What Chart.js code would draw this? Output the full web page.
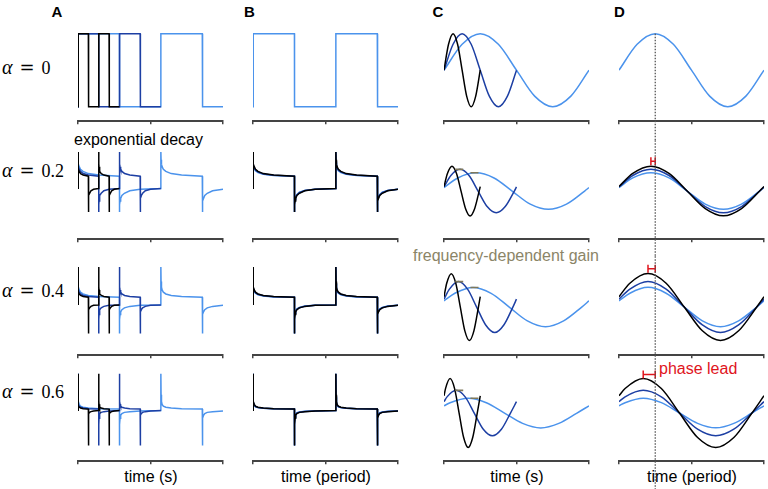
<!DOCTYPE html>
<html>
<head>
<meta charset="utf-8">
<script src="https://cdn.jsdelivr.net/npm/chart.js@4.4.0/dist/chart.umd.min.js"></script>
<style>
body { margin: 0; width: 768px; height: 489px; position: relative; overflow: hidden; background: #fff;
       font-family: "Liberation Sans", Arial, sans-serif; }
canvas { position: absolute; }
.lbl { position: absolute; line-height: 1; white-space: nowrap; color: #000; }
.letter { font-weight: bold; font-size: 15px; }
.xtitle { font-size: 16px; width: 200px; text-align: center; }
.note { font-size: 16px; }
.alpha { position: absolute; left: 2px; font-family: "Liberation Serif", serif; font-size: 18px; line-height: 18px; white-space: nowrap; }
.alpha i { font-family: "Liberation Serif", serif; font-style: italic; font-size: 20px; }
.alpha .eq { font-family: "DejaVu Serif", serif; margin: 0 7px 0 7px; }
</style>
</head>
<body>
<div class="lbl letter" style="left:51.5px; top:4px">A</div>
<div class="lbl letter" style="left:244px; top:4px">B</div>
<div class="lbl letter" style="left:432.5px; top:4px">C</div>
<div class="lbl letter" style="left:614px; top:4px">D</div>

<div class="alpha" style="top:58.2px"><i>α</i><span class="eq">=</span>0</div>
<div class="alpha" style="top:161px"><i>α</i><span class="eq">=</span>0.2</div>
<div class="alpha" style="top:281px"><i>α</i><span class="eq">=</span>0.4</div>
<div class="alpha" style="top:382.2px"><i>α</i><span class="eq">=</span>0.6</div>

<div class="lbl note" style="left:74px; top:131.5px">exponential decay</div>
<div class="lbl note" style="left:413px; top:248.2px; color:#8b8567">frequency-dependent gain</div>
<div class="lbl note" style="left:659px; top:361px; color:#e0141c">phase lead</div>

<div class="lbl xtitle" style="left:51px; top:468.5px">time (s)</div>
<div class="lbl xtitle" style="left:226px; top:468.5px">time (period)</div>
<div class="lbl xtitle" style="left:417px; top:468.5px">time (s)</div>
<div class="lbl xtitle" style="left:592px; top:468.5px">time (period)</div>

<script>
// valeurs (unité : amplitude du créneau de la ligne alpha = 0)
var rowAlpha = ['0', '0.2', '0.4', '0.6'];
var seriesColors = ['#000000', '#1d3fa3', '#4b93ec'];

// A et B : réponse après chaque front, u = fraction de demi-période
var edgeU = [0, 0.005, 0.015, 0.03, 0.06, 0.12, 0.25, 0.5, 1];
var riseResp = [
    [1, 1, 1, 1, 1, 1, 1, 1, 1],
    [0.99, 0.78, 0.66, 0.59, 0.52, 0.46, 0.40, 0.36, 0.33],
    [1.02, 0.62, 0.47, 0.39, 0.33, 0.28, 0.24, 0.21, 0.19],
    [1.00, 0.42, 0.24, 0.16, 0.11, 0.08, 0.06, 0.04, 0.03]
];
var fallResp = [
    [-1, -1, -1, -1, -1, -1, -1, -1, -1],
    [-0.65, -0.45, -0.35, -0.28, -0.20, -0.14, -0.07, -0.03, -0.01],
    [-0.80, -0.42, -0.28, -0.21, -0.15, -0.10, -0.06, -0.03, -0.02],
    [-0.97, -0.40, -0.22, -0.14, -0.09, -0.06, -0.04, -0.02, -0.01]
];
// B : les courbes bleues retombent un peu plus vite que la noire
var riseNavyB = [
    [1, 1, 1, 1, 1, 1, 1, 1, 1],
    [0.99, 0.74, 0.63, 0.565, 0.50, 0.445, 0.39, 0.355, 0.33],
    [1.02, 0.58, 0.445, 0.37, 0.315, 0.27, 0.232, 0.205, 0.19],
    [1.00, 0.38, 0.22, 0.145, 0.10, 0.075, 0.055, 0.04, 0.03]
];
var fallNavyB = [
    [-1, -1, -1, -1, -1, -1, -1, -1, -1],
    [-0.65, -0.42, -0.32, -0.255, -0.185, -0.125, -0.065, -0.03, -0.01],
    [-0.80, -0.385, -0.26, -0.195, -0.14, -0.095, -0.055, -0.03, -0.02],
    [-0.97, -0.36, -0.20, -0.125, -0.08, -0.055, -0.035, -0.02, -0.01]
];
var riseLightB = [
    [1, 1, 1, 1, 1, 1, 1, 1, 1],
    [0.99, 0.70, 0.60, 0.54, 0.48, 0.43, 0.38, 0.35, 0.33],
    [1.02, 0.55, 0.42, 0.35, 0.30, 0.26, 0.225, 0.20, 0.19],
    [1.00, 0.35, 0.20, 0.13, 0.09, 0.07, 0.05, 0.04, 0.03]
];
var fallLightB = [
    [-1, -1, -1, -1, -1, -1, -1, -1, -1],
    [-0.65, -0.38, -0.29, -0.23, -0.17, -0.11, -0.06, -0.03, -0.01],
    [-0.80, -0.35, -0.24, -0.18, -0.13, -0.09, -0.05, -0.03, -0.02],
    [-0.97, -0.33, -0.18, -0.11, -0.07, -0.05, -0.03, -0.02, -0.01]
];
var startLevel = [-1, 0, 0, 0];
var halfPeriodA = [0.25, 0.5, 1];   // s (noir, bleu foncé, bleu clair)
var halfPeriodB = [1, 1, 1];        // en demi-périodes
var edgesPerTrace = 4;

// C et D : sinusoïdes sur une période (x en période)
var sineX = [
    [0, 0.125, 0.25, 0.375, 0.5, 0.625, 0.75, 0.875, 1],
    [0, 0.095, 0.22, 0.345, 0.47, 0.595, 0.72, 0.845, 0.97, 1],
    [0, 0.075, 0.2, 0.325, 0.45, 0.575, 0.7, 0.825, 0.95, 1],
    [0, 0.042, 0.167, 0.292, 0.417, 0.542, 0.667, 0.792, 0.917, 1]
];
var sineBlack = [
    [0, 0.71, 1, 0.71, 0, -0.71, -1, -0.71, 0],
    [0.13, 0.51, 0.72, 0.51, 0, -0.51, -0.72, -0.51, 0, 0.13],
    [0.30, 0.69, 0.97, 0.69, 0, -0.69, -0.97, -0.69, 0, 0.30],
    [0.50, 0.71, 1.00, 0.71, 0, -0.71, -1.00, -0.71, 0, 0.50]
];
var sineNavy = [
    [0, 0.71, 1, 0.71, 0, -0.71, -1, -0.71, 0],
    [0.12, 0.45, 0.63, 0.45, 0, -0.45, -0.63, -0.45, 0, 0.12],
    [0.23, 0.52, 0.74, 0.52, 0, -0.52, -0.74, -0.52, 0, 0.23],
    [0.33, 0.47, 0.66, 0.47, 0, -0.47, -0.66, -0.47, 0, 0.33]
];
var sineLight = [
    [0, 0.71, 1, 0.71, 0, -0.71, -1, -0.71, 0],
    [0.10, 0.38, 0.53, 0.38, 0, -0.38, -0.53, -0.38, 0, 0.10],
    [0.18, 0.40, 0.57, 0.40, 0, -0.40, -0.57, -0.40, 0, 0.18],
    [0.21, 0.30, 0.43, 0.30, 0, -0.30, -0.43, -0.30, 0, 0.21]
];
var periodC = [0.25, 0.5, 1];         // s
var gainX = [0.105, 0.21];            // repères de gain (panneau C)
var leadStart = [null, 0.22, 0.2, 0.167];
var leadLevel = [null, 0.86, 1.11, 1.12];
var peakTime = 0.25;

// mise en page
var colLeft = [78, 253, 444, 619];
var colWidth = 145;
var rowTop = [22, 140, 256, 362];
var rowHeight = [118, 116, 106, 127];
var yMin = -1.40, yMax = 1.32;
var areaH = 99.3;
var tickLen = 3;
var sides = 8;

function squareTrace(row, half, rise, fall) {
    var pts = [{x: 0, y: startLevel[row]}];
    for (var k = 0; k < edgesPerTrace; k++) {
        var resp = (k % 2 === 0) ? rise[row] : fall[row];
        for (var j = 0; j < edgeU.length; j++) {
            pts.push({x: (k + edgeU[j]) * half, y: resp[j]});
        }
    }
    return pts;
}

function sineTrace(row, values, period) {
    return sineX[row].map(function (x, i) { return {x: x * period, y: values[row][i]}; });
}

function makePanel(col, row, xMax, datasets) {
    var cv = document.createElement('canvas');
    cv.width = colWidth + 2 * sides;
    cv.height = rowHeight[row];
    cv.style.left = (colLeft[col] - sides) + 'px';
    cv.style.top = rowTop[row] + 'px';
    document.body.appendChild(cv);
    new Chart(cv, {
        type: 'line',
        data: {datasets: datasets},
        options: {
            responsive: false,
            animation: false,
            events: [],
            layout: {padding: {left: sides, right: sides, top: 0, bottom: rowHeight[row] - areaH - tickLen}},
            plugins: {legend: {display: false}, tooltip: {enabled: false}},
            elements: {point: {radius: 0}, line: {borderWidth: 1.5, tension: 0}},
            scales: {
                x: {
                    type: 'linear', min: 0, max: xMax,
                    ticks: {display: false, stepSize: xMax / 2},
                    grid: {drawOnChartArea: false, drawTicks: true, tickLength: tickLen, color: '#444', lineWidth: 1.5},
                    border: {color: '#444', width: 2}
                },
                y: {display: false, min: yMin, max: yMax}
            }
        }
    });
}

var sines = [sineBlack, sineNavy, sineLight];
var riseB = [riseResp, riseNavyB, riseLightB];
var fallB = [fallResp, fallNavyB, fallLightB];

for (var r = 0; r < 4; r++) {
    // A
    var dsA = [];
    for (var s = 0; s < 3; s++) {
        dsA.push({data: squareTrace(r, halfPeriodA[s], riseResp, fallResp), borderColor: seriesColors[s]});
    }
    makePanel(0, r, 3.5, dsA);

    // B (pour alpha = 0 les trois courbes se confondent : seule la bleu clair se voit)
    var dsB = [];
    for (var s = (r === 0 ? 2 : 0); s < 3; s++) {
        dsB.push({data: squareTrace(r, halfPeriodB[s], riseB[s], fallB[s]), borderColor: seriesColors[s]});
    }
    makePanel(1, r, 3.5, dsB);

    // C
    var dsC = [];
    if (r > 0) {
        var top = Math.max.apply(null, sineBlack[r]);
        var lows = [Math.max.apply(null, sineNavy[r]), Math.max.apply(null, sineLight[r])];
        for (var g = 0; g < 2; g++) {
            dsC.push({
                data: [{x: gainX[g], y: top}, {x: gainX[g], y: lows[g]}],
                borderColor: '#7f785a', borderWidth: 1.6, borderDash: [1.5, 1],
                pointStyle: 'line', pointRadius: 4, pointBorderColor: '#7f785a', pointBorderWidth: 1.6
            });
        }
    }
    for (var s = 0; s < 3; s++) {
        dsC.push({data: sineTrace(r, sines[s], periodC[s]), borderColor: seriesColors[s], cubicInterpolationMode: 'monotone'});
    }
    makePanel(2, r, 1, dsC);

    // D
    var dsD = [];
    dsD.push({
        data: [{x: peakTime, y: r === 0 ? 1 : 20}, {x: peakTime, y: -20}],
        borderColor: '#555', borderWidth: 1.3, borderDash: [1.5, 1.5], clip: false
    });
    if (r > 0) {
        dsD.push({
            data: [{x: leadStart[r], y: leadLevel[r]}, {x: peakTime, y: leadLevel[r]}],
            borderColor: '#e0141c', borderWidth: 1.5,
            pointStyle: 'line', pointRotation: 90, pointRadius: 4, pointBorderColor: '#e0141c', pointBorderWidth: 1.5
        });
    }
    for (var s = (r === 0 ? 2 : 0); s < 3; s++) {
        dsD.push({data: sineTrace(r, sines[s], 1), borderColor: seriesColors[s], cubicInterpolationMode: 'monotone'});
    }
    makePanel(3, r, 1, dsD);
}
</script>
</body>
</html>
